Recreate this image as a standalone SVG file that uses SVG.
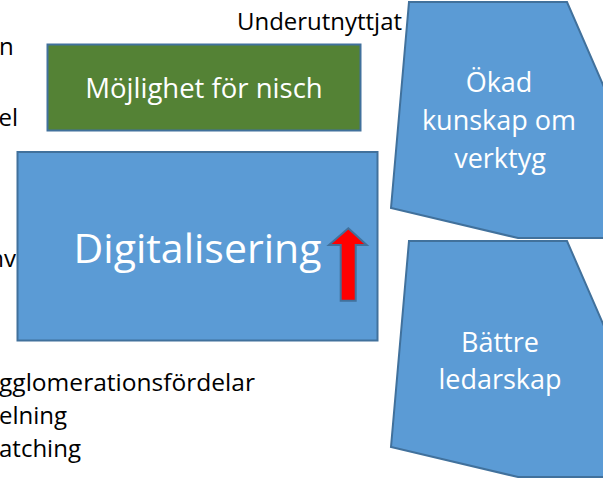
<svg xmlns="http://www.w3.org/2000/svg" width="603" height="482" viewBox="0 0 603 482">
<style>
.blk{font-family:"Open Sans","Liberation Sans",sans-serif;fill:#000;font-size:24px}
.wt{font-family:"Open Sans","Liberation Sans",sans-serif;fill:#fff;text-anchor:middle}
.shape{fill:#5b9bd5;stroke:#41719c;stroke-width:2}
</style>
<rect width="603" height="482" fill="#fff"/>
<g id="left-text">
<text class="blk" x="-1" y="55">n</text>
<text class="blk" x="18" y="126" text-anchor="end">el</text>
<text class="blk" x="16" y="267" text-anchor="end">nv</text>
<text class="blk" x="-1" y="391" textLength="256" lengthAdjust="spacingAndGlyphs">gglomerationsfördelar</text>
<text class="blk" x="-1" y="424">elning</text>
<text class="blk" x="-1" y="457">atching</text>
</g>
<g id="underutnyttjat">
<text class="blk" x="237" y="30" textLength="165" lengthAdjust="spacingAndGlyphs">Underutnyttjat</text>
</g>
<g id="mojlighet">
<rect x="47.5" y="44.5" width="313" height="86" fill="#548235" stroke="#41719c" stroke-width="2"/>
<text class="wt" x="204" y="98" font-size="27.5">Möjlighet för nisch</text>
</g>
<g id="digitalisering">
<rect class="shape" x="17.5" y="152" width="360" height="188.5"/>
<text class="wt" x="197.5" y="263" font-size="41">Digitalisering</text>
<polygon points="348.3,228.3 366.7,245 355.7,245 355.7,300.7 340.7,300.7 340.7,245 329,245" fill="#ff0000" stroke="#41719c" stroke-width="2"/>
</g>
<g id="okad">
<polygon class="shape" points="409,2 567,2 640,170 640,238 518,238 391,208"/>
<text class="wt" x="499" y="92" font-size="27">Ökad</text>
<text class="wt" x="499" y="130" font-size="27">kunskap om</text>
<text class="wt" x="500" y="168" font-size="27">verktyg</text>
</g>
<g id="battre">
<polygon class="shape" points="409,241 567,241 640,409 640,477 518,477 391,447"/>
<text class="wt" x="500" y="352" font-size="27">Bättre</text>
<text class="wt" x="500" y="389" font-size="27">ledarskap</text>
</g>
<g id="connectors"></g>
</svg>
